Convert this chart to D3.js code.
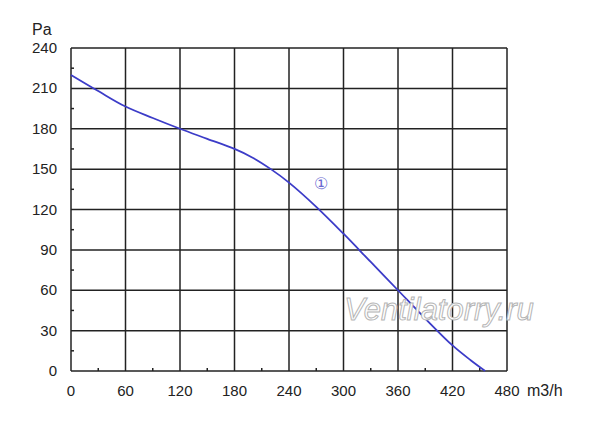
<!DOCTYPE html>
<html>
<head>
<meta charset="utf-8">
<script src="https://cdn.jsdelivr.net/npm/d3@7"></script>
<style>
  body { margin: 0; background: #fff; }
  text { font-family: "Liberation Sans", Arial, sans-serif; }
</style>
</head>
<body>
<svg id="chart" width="600" height="422"></svg>
<script>
// fan curve: airflow (m3/h) vs static pressure (Pa)
var flow     = [0, 30, 60, 90, 120, 150, 180, 200, 220, 240, 270, 300, 330, 360, 390, 420, 440, 456];
var pressure = [220, 208, 196.5, 188, 180, 172.5, 165, 158.5, 150, 140, 122, 102, 81, 60, 39, 19, 8, 0];
var xTicks = [0, 60, 120, 180, 240, 300, 360, 420, 480];
var yTicks = [0, 30, 60, 90, 120, 150, 180, 210, 240];
var curveLabel = '\u2460';
var watermark = 'Ventilatorry.ru';

var margin = { left: 71, right: 93, top: 48, bottom: 51 };
var width = 600 - margin.left - margin.right;
var height = 422 - margin.top - margin.bottom;

var svg = d3.select('#chart');
var g = svg.append('g')
  .attr('transform', 'translate(' + margin.left + ',' + margin.top + ')');

var x = d3.scaleLinear().domain([0, 480]).range([0, width]);
var y = d3.scaleLinear().domain([0, 240]).range([height, 0]);

// grid
g.selectAll('.vgrid')
  .data(xTicks)
  .enter().append('line')
  .attr('x1', function(d) { return x(d); })
  .attr('x2', function(d) { return x(d); })
  .attr('y1', 0).attr('y2', height)
  .attr('stroke', '#222').attr('stroke-width', 1.5);

g.selectAll('.hgrid')
  .data(yTicks)
  .enter().append('line')
  .attr('y1', function(d) { return y(d); })
  .attr('y2', function(d) { return y(d); })
  .attr('x1', 0).attr('x2', width)
  .attr('stroke', '#222').attr('stroke-width', 1.5);

// minor ticks halfway between grid lines
var xMinor = xTicks.slice(0, -1).map(function(d) { return d + 30; });
var yMinor = yTicks.slice(0, -1).map(function(d) { return d + 15; });

g.selectAll('.xminor')
  .data(xMinor)
  .enter().append('line')
  .attr('x1', function(d) { return x(d); })
  .attr('x2', function(d) { return x(d); })
  .attr('y1', height).attr('y2', height - 3)
  .attr('stroke', '#222').attr('stroke-width', 1.5);

g.selectAll('.yminor')
  .data(yMinor)
  .enter().append('line')
  .attr('y1', function(d) { return y(d); })
  .attr('y2', function(d) { return y(d); })
  .attr('x1', 0).attr('x2', 3)
  .attr('stroke', '#222').attr('stroke-width', 1.5);

// tick labels
g.selectAll('.xlabel')
  .data(xTicks)
  .enter().append('text')
  .attr('x', function(d) { return x(d); })
  .attr('y', height + 25)
  .attr('text-anchor', 'middle')
  .attr('font-size', 15)
  .attr('fill', '#222')
  .text(function(d) { return d; });

g.selectAll('.ylabel')
  .data(yTicks)
  .enter().append('text')
  .attr('x', -14)
  .attr('y', function(d) { return y(d) + 5; })
  .attr('text-anchor', 'end')
  .attr('font-size', 15)
  .attr('fill', '#222')
  .text(function(d) { return d; });

// units
g.append('text')
  .attr('x', width + 20)
  .attr('y', height + 25)
  .attr('font-size', 16)
  .attr('fill', '#222')
  .text('m3/h');

g.append('text')
  .attr('x', -39)
  .attr('y', -13)
  .attr('font-size', 16)
  .attr('fill', '#222')
  .text('Pa');

// watermark
svg.append('text')
  .attr('x', 439)
  .attr('y', 320)
  .attr('text-anchor', 'middle')
  .attr('font-size', 31)
  .attr('font-style', 'italic')
  .attr('fill', '#fff')
  .attr('stroke', '#b5b5b5')
  .attr('stroke-width', 1)
  .text(watermark);

// the curve
var line = d3.line()
  .x(function(d) { return x(d[0]); })
  .y(function(d) { return y(d[1]); })
  .curve(d3.curveCatmullRom.alpha(0.5));

g.append('path')
  .datum(d3.zip(flow, pressure))
  .attr('d', line)
  .attr('fill', 'none')
  .attr('stroke', '#3c3cc8')
  .attr('stroke-width', 1.8);

g.append('text')
  .attr('x', x(275))
  .attr('y', y(135))
  .attr('text-anchor', 'middle')
  .attr('font-size', 16)
  .attr('fill', '#6a6ad0')
  .text(curveLabel);
</script>
</body>
</html>
